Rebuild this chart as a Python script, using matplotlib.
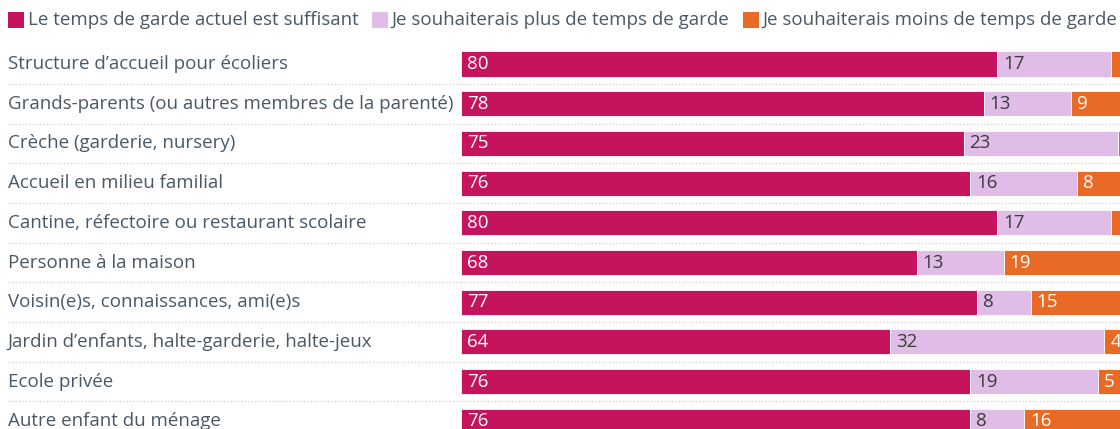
import matplotlib
matplotlib.use("Agg")
import matplotlib.pyplot as plt
import matplotlib.transforms as mtransforms
from matplotlib.patches import Rectangle

plt.rcParams['font.family'] = ['Open Sans', 'DejaVu Sans']

categories = [
    "Structure d’accueil pour écoliers",
    "Grands-parents (ou autres membres de la parenté)",
    "Crèche (garderie, nursery)",
    "Accueil en milieu familial",
    "Cantine, réfectoire ou restaurant scolaire",
    "Personne à la maison",
    "Voisin(e)s, connaissances, ami(e)s",
    "Jardin d’enfants, halte-garderie, halte-jeux",
    "Ecole privée",
    "Autre enfant du ménage",
]
suffisant = [80, 78, 75, 76, 80, 68, 77, 64, 76, 76]
plus = [17, 13, 23, 16, 17, 13, 8, 32, 19, 8]
moins = [3, 9, 2, 8, 3, 19, 15, 4, 5, 16]
series_names = [
    "Le temps de garde actuel est suffisant",
    "Je souhaiterais plus de temps de garde",
    "Je souhaiterais moins de temps de garde",
]
colors = ["#C5135E", "#E0BDE6", "#E96A24"]
label_colors = ["white", "#3b3b3b", "white"]
text_color = "#4A5866"

W, H = 1120, 429
fig = plt.figure(figsize=(W / 100, H / 100), dpi=100)

row_top = 64.0
row_step = 39.7
n = len(categories)
top_px = row_top - row_step / 2
bot_px = row_top + row_step * (n - 1) + row_step / 2
x0_px, x1_px = 461.0, 1131.0
ax = fig.add_axes([x0_px / W, 1 - bot_px / H, (x1_px - x0_px) / W, (bot_px - top_px) / H])
ax.set_xlim(0, 100)
ax.set_ylim(n - 0.5, -0.5)
ax.axis("off")

fs = 13.5
blend = mtransforms.blended_transform_factory(fig.transFigure, ax.transData)

series = [suffisant, plus, moins]
for i in range(n):
    left = 0
    for s, vals in enumerate(series):
        v = vals[i]
        ax.barh(i, v, left=left, height=0.63, color=colors[s], edgecolor="white", linewidth=0.6, clip_on=False)
        if v >= 4:
            ax.text(left + 0.9, i, str(v), va="center", ha="left", color=label_colors[s], fontsize=fs, clip_on=False)
        left += v
    ax.text(8 / W, i, categories[i], transform=blend, va="center", ha="left", color=text_color, fontsize=fs)
    if i < n - 1:
        ax.plot([8 / W, 1.0], [i + 0.5, i + 0.5], transform=blend, color="#D5D5D5", linewidth=1.0,
                linestyle=(0, (1, 1.5)), clip_on=False)

# legend
fig.canvas.draw()
renderer = fig.canvas.get_renderer()
x = 8.0
yc = 20.0
sq = 16.0
for s, name in enumerate(series_names):
    fig.patches.append(Rectangle((x / W, 1 - (yc + sq / 2) / H), sq / W, sq / H, transform=fig.transFigure,
                                 facecolor=colors[s], edgecolor="none"))
    t = fig.text((x + sq + 4) / W, 1 - yc / H, name, va="center", ha="left", color=text_color, fontsize=fs)
    bb = t.get_window_extent(renderer)
    x = bb.x1 + 13

fig.savefig("out.png", dpi=100)
